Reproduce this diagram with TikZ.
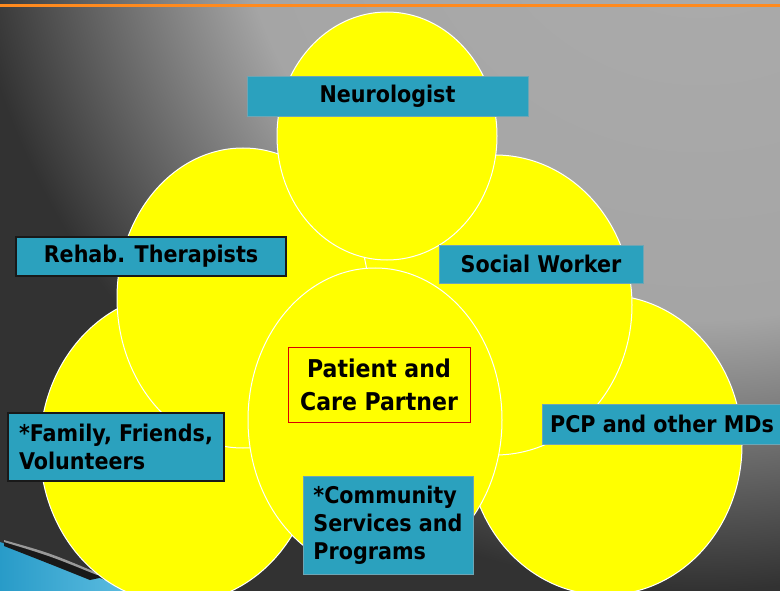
\documentclass[tikz,border=0pt]{standalone}
\usepackage{fontspec}
\setmainfont{DejaVu Sans Condensed}
\usetikzlibrary{shapes.geometric}

\definecolor{bgLight}{RGB}{172,172,172}
\definecolor{bgMid}{RGB}{165,165,165}
\definecolor{bgDark}{RGB}{50,50,50}
\definecolor{topLine}{RGB}{255,138,30}
\definecolor{blobYellow}{RGB}{255,255,0}
\definecolor{boxTeal}{RGB}{43,161,190}
\definecolor{boxEdge}{RGB}{110,165,180}
\definecolor{swoosh}{RGB}{40,155,200}
\definecolor{swooshLight}{RGB}{95,190,225}
\pgfdeclareradialshading{backdrop}{\pgfpoint{0bp}{0bp}}{color(0bp)=(bgLight); color(11.75bp)=(bgMid); color(18.5bp)=(bgDark); color(50bp)=(bgDark)}

\begin{document}
\begin{tikzpicture}[
                x=1pt, y=-1pt,                % 像素坐标
                blob/.style={
                    ellipse,
                    draw=white,
                    line width=1pt,
                    fill=blobYellow,
                    inner sep=0pt
                },
                tag/.style={
                    rectangle,
                    fill=boxTeal,
                    draw=boxEdge,
                    line width=0.8pt,
                    inner sep=0pt,
                    font=\fontsize{23}{28}\selectfont\bfseries,
                    align=center
                },
                darktag/.style={tag, draw=black!90, line width=1.5pt}
            ]
                \useasboundingbox (0,0) rectangle (780,591);

                % 背景
                \begin{scope}
                    \clip (0,0) rectangle (780,591);
                    \shade[shading=backdrop] (700,-150) circle (1000pt);
                \end{scope}
                \draw[topLine, line width=3pt] (0,5.5) -- (780,5.5);
                \shade[left color=swoosh, right color=swooshLight]
                    (0,542) .. controls (50,560) .. (135,591) -- (0,591) -- cycle;
                \fill[black!90] (4,540) .. controls (50,554) .. (104,577)
                    -- (90,580) .. controls (50,564) .. (4,546) -- cycle;
                \fill[black!40] (4,540) .. controls (50,553) .. (100,574)
                    -- (97,575) .. controls (50,556) .. (4,542) -- cycle;

                % 椭圆
                \node[blob, minimum width=276, minimum height=310] (family) at (178,448) {};
                \node[blob, minimum width=274, minimum height=300] (pcp) at (605,445) {};
                \node[blob, minimum width=274, minimum height=300] (social) at (495,305) {};
                \node[blob, minimum width=252, minimum height=300] (rehab) at (243,298) {};
                \node[blob, minimum width=220, minimum height=248] (neuro) at (387,136) {};
                \node[blob, minimum width=254, minimum height=304] (patient) at (375,420) {};

                % 标签
                \node[tag, minimum width=281, minimum height=40] (neuroTag) at (387.5,96) {Neurologist};
                \node[darktag, minimum width=270, minimum height=39] (rehabTag) at (151,256.5) {Rehab. Therapists};
                \node[tag, minimum width=204, minimum height=38] (socialTag) at (541,264) {Social Worker};
                \node[tag, minimum width=240, minimum height=40] (pcpTag) at (662,424) {PCP and other MDs};
                \node[darktag, minimum width=216, minimum height=68, align=left] (familyTag) at (116,447)
                    {*Family, Friends,\\Volunteers};
                \node[tag, minimum width=170, minimum height=98, align=left] (communityTag) at (388,525)
                    {*Community\\Services and\\Programs};
                \node[rectangle, fill=blobYellow, draw=red!85!black, line width=0.8pt,
                      minimum width=182, minimum height=75, align=center,
                      font=\fontsize{24.5}{33}\selectfont\bfseries] (patientTag) at (379,384.5)
                    {Patient and\\Care Partner};
            \end{tikzpicture}
\end{document}
